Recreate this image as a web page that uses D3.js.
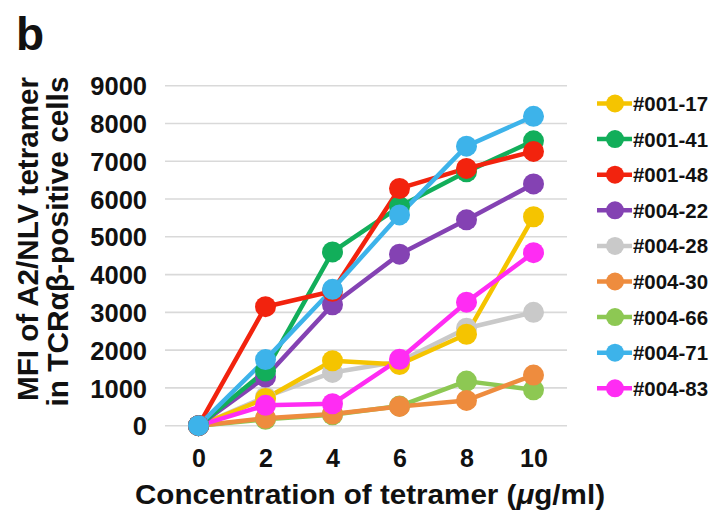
<!DOCTYPE html>
<html><head><meta charset="utf-8">
<script src="https://cdn.jsdelivr.net/npm/d3@7"></script>
<style>body{margin:0;background:#fff}svg{display:block;font-family:"Liberation Sans",Arial,Helvetica,sans-serif;font-weight:bold}</style>
</head><body><svg id="c" width="719" height="511"></svg>
<script>
const concentrations = [0, 2, 4, 6, 8, 10];
const seriesNames = ["#001-17","#001-41","#001-48","#004-22","#004-28","#004-30","#004-66","#004-71","#004-83"];
const seriesColors = ["#F5C400","#12AE5A","#F2230E","#8442B3","#C9C9C9","#EE8C3E","#8DC853","#3DB3EA","#FF2CF3"];
const v001_17 = [0, 720, 1720, 1620, 2420, 5530];
const v001_41 = [0, 1450, 4600, 5800, 6720, 7540];
const v001_48 = [0, 3150, 3560, 6280, 6810, 7260];
const v004_22 = [0, 1290, 3200, 4540, 5450, 6400];
const v004_28 = [0, 760, 1410, 1700, 2580, 3000];
const v004_30 = [0, 200, 310, 510, 670, 1340];
const v004_66 = [0, 170, 290, 520, 1180, 950];
const v004_71 = [0, 1750, 3610, 5580, 7400, 8190];
const v004_83 = [0, 540, 580, 1760, 3270, 4580];
const yTicks = [0,1000,2000,3000,4000,5000,6000,7000,8000,9000];
const allValues = [v001_17,v001_41,v001_48,v004_22,v004_28,v004_30,v004_66,v004_71,v004_83];

const svg = d3.select("#c");
const x = d3.scalePoint().domain(concentrations).range([198.5, 533.5]);
const y = d3.scaleLinear().domain([0, 9000]).range([425.7, 85.7]);

// gridlines
svg.append("g").selectAll("line").data(yTicks).join("line")
  .attr("x1", 165).attr("x2", 567)
  .attr("y1", d => y(d)).attr("y2", d => y(d))
  .attr("stroke", "#d9d9d9").attr("stroke-width", 1.6);

// y axis labels
const ya = svg.append("g").attr("transform", "translate(147,0)")
  .call(d3.axisLeft(y).tickValues(yTicks).tickSize(0).tickPadding(0).tickFormat(d3.format("d")));
ya.select(".domain").remove();
ya.selectAll("text").attr("font-size", 25.5).attr("font-family", "Liberation Sans, Arial, sans-serif")
  .attr("font-weight", "bold").attr("fill", "#111").attr("dy", "0.36em");

// x axis labels
const xa = svg.append("g").attr("transform", "translate(0,449)")
  .call(d3.axisBottom(x).tickSize(0).tickPadding(0));
xa.select(".domain").remove();
xa.selectAll("text").attr("font-size", 25).attr("font-family", "Liberation Sans, Arial, sans-serif")
  .attr("font-weight", "bold").attr("fill", "#111").attr("dy", "0.71em");

// series
const line = d3.line().x((d, i) => x(concentrations[i])).y(d => y(d));
const order = [6,5,4,0,8,3,1,2,7];
order.forEach(k => {
  svg.append("path").datum(allValues[k]).attr("d", line)
    .attr("fill", "none").attr("stroke", seriesColors[k]).attr("stroke-width", 4.5).attr("stroke-linejoin", "round");
});
order.forEach(k => {
  svg.append("g").selectAll("circle").data(allValues[k]).join("circle")
    .attr("cx", (d, i) => x(concentrations[i])).attr("cy", d => y(d)).attr("r", 10.5)
    .attr("fill", seriesColors[k]);
});

// legend
const leg = svg.append("g");
seriesNames.forEach((n, i) => {
  const yy = 103.5 + i * 35.6;
  leg.append("line").attr("x1", 597).attr("x2", 632).attr("y1", yy).attr("y2", yy)
    .attr("stroke", seriesColors[i]).attr("stroke-width", 4.5);
  leg.append("circle").attr("cx", 615).attr("cy", yy).attr("r", 9).attr("fill", seriesColors[i]);
  leg.append("text").attr("x", 633).attr("y", yy + 7.5).attr("font-size", 20.5).attr("fill", "#111")
    .attr("textLength", 75).attr("lengthAdjust", "spacingAndGlyphs").text(n);
});

// titles
svg.append("text").attr("x", 16).attr("y", 50).attr("font-size", 46).attr("fill", "#111").text("b");
svg.append("text").attr("transform", "translate(38,239) rotate(-90)").attr("text-anchor", "middle")
  .attr("font-size", 29).attr("fill", "#111")
  .attr("textLength", 324).attr("lengthAdjust", "spacingAndGlyphs").text("MFI of A2/NLV tetramer");
svg.append("text").attr("transform", "translate(68,241.5) rotate(-90)").attr("text-anchor", "middle")
  .attr("font-size", 29).attr("fill", "#111")
  .attr("textLength", 330).attr("lengthAdjust", "spacingAndGlyphs").text("in TCRαβ-positive cells");
const xt = svg.append("text").attr("x", 370).attr("y", 504).attr("text-anchor", "middle")
  .attr("font-size", 28).attr("fill", "#111")
  .attr("textLength", 470).attr("lengthAdjust", "spacingAndGlyphs");
xt.append("tspan").text("Concentration of tetramer (");
xt.append("tspan").attr("font-style", "italic").text("μ");
xt.append("tspan").text("g/ml)");
</script></body></html>
